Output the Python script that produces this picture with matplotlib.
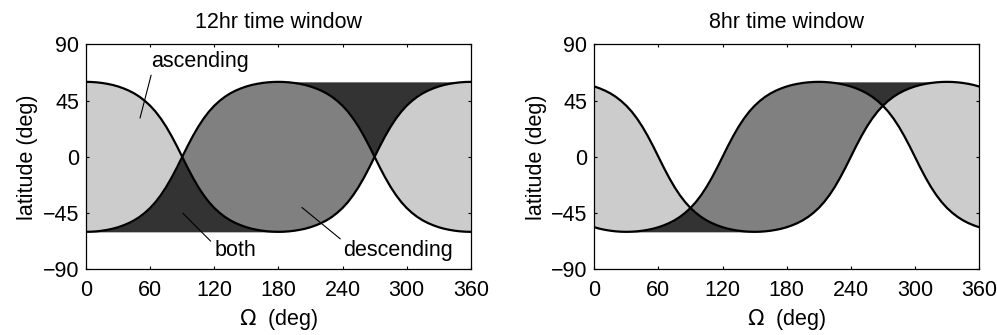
import numpy as np
import matplotlib
matplotlib.use("Agg")
from matplotlib import pyplot as plt

plt.rcParams['font.family'] = ['Liberation Sans', 'DejaVu Sans']

# Omega grid (deg), 5 deg steps
omega = np.arange(0, 361, 5)

# 12hr window: ascending / descending boundary tracks (lat, deg)
lat_12_a = [60.0, 59.9, 59.6, 59.1, 58.4, 57.5, 56.3, 54.8, 53.0, 50.8, 48.1, 44.8, 40.9, 36.2, 30.6, 24.1, 16.7, 8.6,
            0.0, -8.6, -16.7, -24.1, -30.6, -36.2, -40.9, -44.8, -48.1, -50.8, -53.0, -54.8, -56.3, -57.5, -58.4, -59.1, -59.6, -59.9,
            -60.0, -59.9, -59.6, -59.1, -58.4, -57.5, -56.3, -54.8, -53.0, -50.8, -48.1, -44.8, -40.9, -36.2, -30.6, -24.1, -16.7, -8.6,
            0.0, 8.6, 16.7, 24.1, 30.6, 36.2, 40.9, 44.8, 48.1, 50.8, 53.0, 54.8, 56.3, 57.5, 58.4, 59.1, 59.6, 59.9, 60.0]
lat_12_b = [-60.0, -59.9, -59.6, -59.1, -58.4, -57.5, -56.3, -54.8, -53.0, -50.8, -48.1, -44.8, -40.9, -36.2, -30.6, -24.1, -16.7, -8.6,
            0.0, 8.6, 16.7, 24.1, 30.6, 36.2, 40.9, 44.8, 48.1, 50.8, 53.0, 54.8, 56.3, 57.5, 58.4, 59.1, 59.6, 59.9,
            60.0, 59.9, 59.6, 59.1, 58.4, 57.5, 56.3, 54.8, 53.0, 50.8, 48.1, 44.8, 40.9, 36.2, 30.6, 24.1, 16.7, 8.6,
            0.0, -8.6, -16.7, -24.1, -30.6, -36.2, -40.9, -44.8, -48.1, -50.8, -53.0, -54.8, -56.3, -57.5, -58.4, -59.1, -59.6, -59.9, -60.0]

# 8hr window
lat_8_a = [56.3, 54.8, 53.0, 50.8, 48.1, 44.8, 40.9, 36.2, 30.6, 24.1, 16.7, 8.6,
           0.0, -8.6, -16.7, -24.1, -30.6, -36.2, -40.9, -44.8, -48.1, -50.8, -53.0, -54.8, -56.3, -57.5, -58.4, -59.1, -59.6, -59.9,
           -60.0, -59.9, -59.6, -59.1, -58.4, -57.5, -56.3, -54.8, -53.0, -50.8, -48.1, -44.8, -40.9, -36.2, -30.6, -24.1, -16.7, -8.6,
           0.0, 8.6, 16.7, 24.1, 30.6, 36.2, 40.9, 44.8, 48.1, 50.8, 53.0, 54.8, 56.3, 57.5, 58.4, 59.1, 59.6, 59.9,
           60.0, 59.9, 59.6, 59.1, 58.4, 57.5, 56.3]
lat_8_b = [-56.3, -57.5, -58.4, -59.1, -59.6, -59.9, -60.0, -59.9, -59.6, -59.1, -58.4, -57.5, -56.3, -54.8, -53.0, -50.8, -48.1, -44.8,
           -40.9, -36.2, -30.6, -24.1, -16.7, -8.6, 0.0, 8.6, 16.7, 24.1, 30.6, 36.2, 40.9, 44.8, 48.1, 50.8, 53.0, 54.8,
           56.3, 57.5, 58.4, 59.1, 59.6, 59.9, 60.0, 59.9, 59.6, 59.1, 58.4, 57.5, 56.3, 54.8, 53.0, 50.8, 48.1, 44.8,
           40.9, 36.2, 30.6, 24.1, 16.7, 8.6, 0.0, -8.6, -16.7, -24.1, -30.6, -36.2, -40.9, -44.8, -48.1, -50.8, -53.0, -54.8, -56.3]

lat_max = 60.0
# Omega spans of the "both" patches (bottom, top)
both_12 = [(0, 180), (180, 360)]
both_8 = [(30, 150), (210, 330)]

c_asc = '#cccccc'
c_desc = '#808080'
c_both = '#333333'
fs = 15.5

fig = plt.figure(figsize=(9.97, 3.35), dpi=100)
ax1 = fig.add_axes([0.0863, 0.196, 0.3859, 0.6716])
ax2 = fig.add_axes([0.5961, 0.196, 0.3859, 0.6716])


def draw_panel(ax, a, b, both, title):
    a = np.array(a)
    b = np.array(b)
    lo = np.minimum(a, b)
    hi = np.maximum(a, b)
    m = (omega >= both[0][0]) & (omega <= both[0][1])
    ax.fill_between(omega, -lat_max, lo, where=m, color=c_both, lw=0)
    m = (omega >= both[1][0]) & (omega <= both[1][1])
    ax.fill_between(omega, hi, lat_max, where=m, color=c_both, lw=0)
    ax.fill_between(omega, b, a, where=a >= b, color=c_asc, lw=0)
    ax.fill_between(omega, a, b, where=b >= a, color=c_desc, lw=0)
    ax.plot(omega, a, color='black', lw=1.6)
    ax.plot(omega, b, color='black', lw=1.6)
    ax.set_xlim(0, 360)
    ax.set_ylim(-90, 90)
    ax.set_xticks([0, 60, 120, 180, 240, 300, 360])
    ax.set_yticks([-90, -45, 0, 45, 90])
    ax.tick_params(direction='in', top=True, right=True, length=2.5, labelsize=fs)
    ax.tick_params(axis='x', pad=8)
    ax.tick_params(axis='y', pad=5)
    for s in ax.spines.values():
        s.set_linewidth(0.9)
    ax.set_xlabel(r'$\Omega$  (deg)', fontsize=fs, labelpad=4)
    ax.set_ylabel('latitude (deg)', fontsize=fs, labelpad=3)
    ax.set_title(title, fontsize=fs, pad=12)


draw_panel(ax1, lat_12_a, lat_12_b, both_12, '12hr time window')
draw_panel(ax2, lat_8_a, lat_8_b, both_8, '8hr time window')

lp = dict(arrowstyle='-', lw=0.8, color='black', shrinkA=0, shrinkB=0)
ax1.annotate('ascending', xy=(50.5, 31), xytext=(60.5, 76), va='center', ha='left', fontsize=fs,
             arrowprops=dict(lp, relpos=(0.02, 0.15)))
ax1.annotate('both', xy=(90.5, -45), xytext=(120.5, -75), va='center', ha='left', fontsize=fs,
             arrowprops=dict(lp, relpos=(-0.1, 0.95)))
ax1.annotate('descending', xy=(202, -40.5), xytext=(240.5, -75), va='center', ha='left', fontsize=fs,
             arrowprops=dict(lp, relpos=(0.0, 0.95)))

fig.savefig('out.png', dpi=100)
